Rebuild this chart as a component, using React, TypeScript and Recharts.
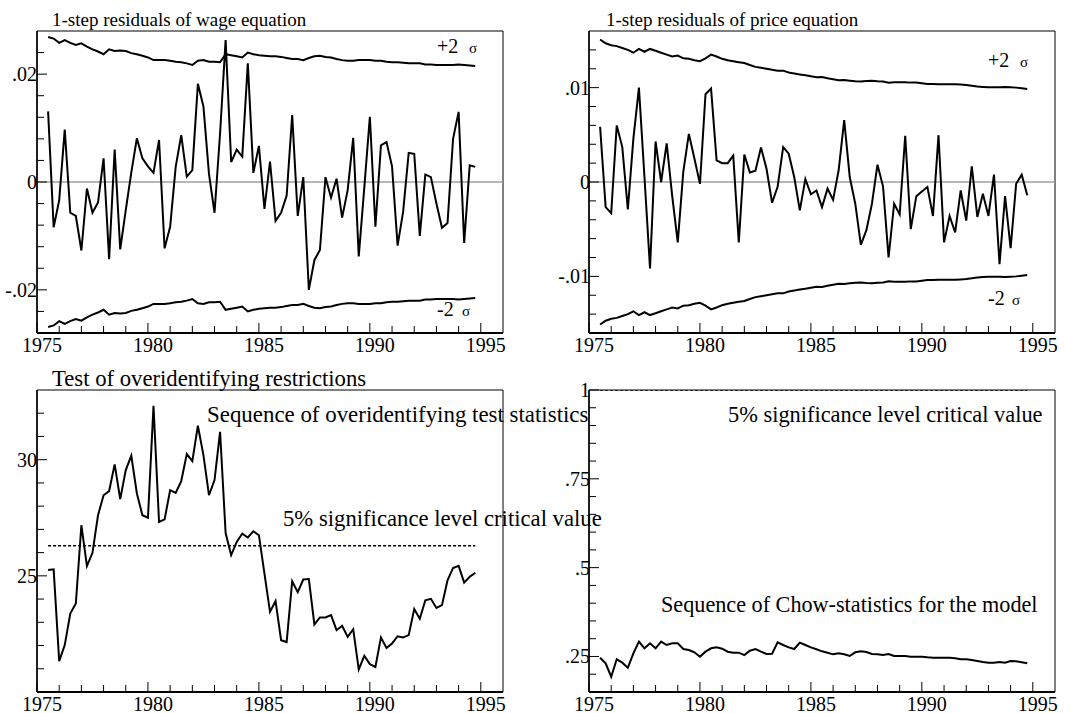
import React from 'react';
import { LineChart, Line, XAxis, YAxis, ReferenceLine, ReferenceArea } from 'recharts';

const FONT = '"Liberation Serif", "Times New Roman", serif';

// quarterly observation dates
const quarters = [
  1975.5, 1975.75, 1976, 1976.25, 1976.5, 1976.75, 1977, 1977.25, 1977.5, 1977.75,
  1978, 1978.25, 1978.5, 1978.75, 1979, 1979.25, 1979.5, 1979.75, 1980, 1980.25,
  1980.5, 1980.75, 1981, 1981.25, 1981.5, 1981.75, 1982, 1982.25, 1982.5, 1982.75,
  1983, 1983.25, 1983.5, 1983.75, 1984, 1984.25, 1984.5, 1984.75, 1985, 1985.25,
  1985.5, 1985.75, 1986, 1986.25, 1986.5, 1986.75, 1987, 1987.25, 1987.5, 1987.75,
  1988, 1988.25, 1988.5, 1988.75, 1989, 1989.25, 1989.5, 1989.75, 1990, 1990.25,
  1990.5, 1990.75, 1991, 1991.25, 1991.5, 1991.75, 1992, 1992.25, 1992.5, 1992.75,
  1993, 1993.25, 1993.5, 1993.75, 1994, 1994.25, 1994.5, 1994.75,
];

const wageResid = [
  0.0131, -0.0084, -0.0034, 0.0097, -0.0057, -0.0063, -0.0127, -0.0012, -0.0057, -0.0038,
  0.0044, -0.0143, 0.006, -0.0125, -0.0052, 0.0018, 0.0081, 0.0044, 0.0029, 0.0017,
  0.0078, -0.0123, -0.0083, 0.0028, 0.0087, 0.001, 0.0022, 0.0182, 0.014, 0.0015,
  -0.0057, 0.009, 0.0263, 0.0037, 0.006, 0.0047, 0.022, 0.0017, 0.0067, -0.005,
  0.0038, -0.0072, -0.0057, -0.0025, 0.0124, -0.0063, 0.0009, -0.02, -0.0145, -0.0126,
  0.0009, -0.0029, 0.0006, -0.0066, -0.0015, 0.0082, -0.0138, -0.001, 0.0121, -0.0083,
  0.0068, 0.0074, 0.0029, -0.0118, -0.0055, 0.0054, 0.0052, -0.01, 0.0014, 0.0009,
  -0.004, -0.0085, -0.0076, 0.008, 0.013, -0.0113, 0.0031, 0.0028,
];

const wageTwoSigma = [
  0.0269, 0.0266, 0.0258, 0.0263, 0.0258, 0.0254, 0.0257, 0.0251, 0.0246, 0.0242,
  0.0237, 0.0246, 0.0243, 0.0244, 0.0243, 0.0239, 0.0237, 0.0234, 0.0231, 0.0226,
  0.0226, 0.0226, 0.0225, 0.0223, 0.0222, 0.022, 0.0217, 0.0225, 0.0226, 0.0223,
  0.0223, 0.0222, 0.0237, 0.0235, 0.0233, 0.0231, 0.024, 0.0237, 0.0235, 0.0234,
  0.0233, 0.0233, 0.0232, 0.023, 0.0228, 0.0228, 0.0226, 0.023, 0.0233, 0.0234,
  0.0232, 0.0231, 0.0228, 0.0226, 0.0225, 0.0225, 0.0226, 0.0226, 0.0226, 0.0225,
  0.0225, 0.0223, 0.0222, 0.0222, 0.0221, 0.022, 0.022, 0.022, 0.0218, 0.0218,
  0.0217, 0.0217, 0.0217, 0.0217, 0.0218, 0.0217, 0.0216, 0.0215,
];

const priceResid = [
  0.00585, -0.00266, -0.0033, 0.006, 0.0037, -0.0029, 0.0046, 0.01, 0.0005, -0.00915,
  0.0043, 0.0, 0.0041, -0.0015, -0.0064, 0.0011, 0.0051, 0.0025, -0.0002, 0.0093,
  0.0099, 0.0023, 0.002, 0.002, 0.0028, -0.0064, 0.0029, 0.001, 0.0012, 0.00365,
  0.0014, -0.0022, -0.0005, 0.0037, 0.003, 0.0005, -0.003, 0.0003, -0.0013, -0.0009,
  -0.00266, -0.0007, -0.0019, 0.00124, 0.00656, 0.00053, -0.0023, -0.00667, -0.0051, -0.0023,
  0.00184, -0.00046, -0.008, -0.0023, -0.00344, 0.0049, -0.005, -0.0015, -0.001, -0.00053,
  -0.0036, 0.00496, -0.0064, -0.0036, -0.00535, -0.0009, -0.0041, 0.00167, -0.0037, -0.00124,
  -0.0036, 0.00078, -0.0087, -0.0015, -0.007, -0.00018, 0.00078, -0.0014,
];

const priceTwoSigma = [
  0.0151, 0.0147, 0.0145, 0.0144, 0.0142, 0.014, 0.0137, 0.0141, 0.0138, 0.0141,
  0.0139, 0.0137, 0.0135, 0.0133, 0.0134, 0.0131, 0.01305, 0.0129, 0.0128, 0.0131,
  0.0135, 0.0133, 0.01305, 0.0129, 0.0128, 0.0127, 0.0126, 0.0124, 0.0122, 0.0121,
  0.012, 0.0119, 0.0118, 0.0118, 0.0116, 0.0115, 0.0114, 0.0113, 0.0112, 0.0111,
  0.01113, 0.01099, 0.01089, 0.01078, 0.01082, 0.01074, 0.01067, 0.01064, 0.01071, 0.01074,
  0.01067, 0.01064, 0.01053, 0.01057, 0.01057, 0.01057, 0.01053, 0.01053, 0.01046, 0.01039,
  0.01039, 0.01035, 0.01035, 0.01035, 0.01035, 0.01032, 0.01028, 0.01021, 0.01011, 0.01007,
  0.01004, 0.01004, 0.01004, 0.01007, 0.01004, 0.01, 0.00993, 0.00986,
];

const overidStat = [
  25.25, 25.28, 21.33, 22.02, 23.38, 23.81, 27.18, 25.42, 25.99, 27.61,
  28.47, 28.65, 29.8, 28.3, 29.55, 30.17, 28.55, 27.61, 27.5, 32.32,
  27.32, 27.43, 28.69, 28.57, 29.08, 30.24, 29.94, 31.46, 30.2, 28.47,
  29.12, 31.2, 26.84, 25.89, 26.46, 26.82, 26.65, 26.92, 26.75, 25.1,
  23.45, 23.92, 22.23, 22.15, 24.77, 24.3, 24.84, 24.86, 22.91, 23.21,
  23.21, 23.31, 22.66, 22.85, 22.37, 22.7, 20.97, 21.56, 21.2, 21.08,
  22.35, 21.9, 22.09, 22.4, 22.35, 22.45, 23.57, 23.15, 23.95, 24.01,
  23.62, 23.74, 24.81, 25.34, 25.43, 24.71, 24.96, 25.13,
];
const overidCritical = 26.3;

const chowStat = [
  0.2466, 0.2307, 0.193, 0.242, 0.2326, 0.2185, 0.259, 0.2917, 0.273, 0.287,
  0.273, 0.2917, 0.2823, 0.287, 0.287, 0.271, 0.268, 0.2617, 0.2494, 0.2635,
  0.273, 0.2757, 0.272, 0.2635, 0.2607, 0.2607, 0.254, 0.2663, 0.271, 0.2635,
  0.257, 0.2579, 0.2899, 0.2823, 0.2757, 0.271, 0.2888, 0.2823, 0.2757, 0.2702,
  0.2645, 0.2607, 0.256, 0.259, 0.256, 0.2513, 0.2617, 0.2645, 0.2626, 0.257,
  0.256, 0.254, 0.257, 0.2513, 0.2513, 0.2513, 0.2494, 0.2494, 0.2494, 0.2475,
  0.2466, 0.2466, 0.2466, 0.2466, 0.2447, 0.242, 0.242, 0.24, 0.2372, 0.2344,
  0.2326, 0.2326, 0.2344, 0.2326, 0.2372, 0.2363, 0.2335, 0.2307,
];
const chowCritical = 1;

// axes
const xDomain = [1975, 1996];
const xTicks = [1975, 1976, 1977, 1978, 1979, 1980, 1981, 1982, 1983, 1984, 1985,
  1986, 1987, 1988, 1989, 1990, 1991, 1992, 1993, 1994, 1995];
const xMajor = [1975, 1980, 1985, 1990, 1995];
const xLabels = ['1975', '1980', '1985', '1990', '1995'];

const wageDomain = [-0.028, 0.028];
const wageTicks = [-0.024, -0.02, -0.016, -0.012, -0.008, -0.004, 0, 0.004, 0.008, 0.012, 0.016, 0.02, 0.024];
const wageMajor = [-0.02, 0, 0.02];
const wageLabels = ['-.02', '0', '.02'];

const priceDomain = [-0.016, 0.016];
const priceTicks = [-0.014, -0.012, -0.01, -0.008, -0.006, -0.004, -0.002, 0, 0.002, 0.004, 0.006, 0.008, 0.01, 0.012, 0.014];
const priceMajor = [-0.01, 0, 0.01];
const priceLabels = ['-.01', '0', '.01'];

const overidDomain = [20, 33];
const overidTicks = [21, 22, 23, 24, 25, 26, 27, 28, 29, 30, 31, 32];
const overidMajor = [25, 30];
const overidLabels = ['25', '30'];

const chowDomain = [0.15, 1];
const chowTicks = [0.2, 0.25, 0.3, 0.35, 0.4, 0.45, 0.5, 0.55, 0.6, 0.65, 0.7, 0.75, 0.8, 0.85, 0.9, 0.95, 1];
const chowMajor = [0.25, 0.5, 0.75, 1];
const chowLabels = ['.25', '.5', '.75', '1'];

const wageRows = quarters.map((t, i) => ({ t, resid: wageResid[i], up: wageTwoSigma[i], lo: -wageTwoSigma[i] }));
const priceRows = quarters.map((t, i) => ({ t, resid: priceResid[i], up: priceTwoSigma[i], lo: -priceTwoSigma[i] }));
const overidRows = quarters.map((t, i) => ({ t, stat: overidStat[i], crit: overidCritical }));
const chowRows = quarters.map((t, i) => ({ t, stat: chowStat[i], crit: chowCritical }));

const near = (a: number, b: number) => Math.abs(a - b) < 1e-9;

const makeXTick = (majors: number[], labels: string[]) => (props: any) => {
  const { x, y, payload } = props;
  const idx = majors.findIndex((m) => near(m, payload.value));
  const major = idx >= 0;
  return (
    <g>
      <line x1={x} x2={x} y1={y} y2={y - (major ? 10 : 7)} stroke="#000" strokeWidth={1} />
      {major && (
        <text x={x + 5} y={y + 18.5} textAnchor="middle" fontSize={20} fontFamily={FONT} fill="#000">
          {labels[idx]}
        </text>
      )}
    </g>
  );
};

const makeYTick = (majors: number[], labels: string[], dx: number) => (props: any) => {
  const { x, y, payload } = props;
  const idx = majors.findIndex((m) => near(m, payload.value));
  const major = idx >= 0;
  return (
    <g>
      <line x1={x} x2={x + (major ? 10 : 7)} y1={y} y2={y} stroke="#000" strokeWidth={1} />
      {major && (
        <text x={x + dx} y={y + 7} textAnchor="end" fontSize={20} fontFamily={FONT} fill="#000">
          {labels[idx]}
        </text>
      )}
    </g>
  );
};

type PanelProps = {
  left: number;
  top: number;
  width: number;
  height: number;
  yw: number;
  xh: number;
  mt: number;
  mr: number;
  data: any[];
  yDomain: number[];
  yTicks: number[];
  yMajor: number[];
  yLabels: string[];
  labelDx: number;
  children: React.ReactNode;
};

function Panel(p: PanelProps) {
  return (
    <div style={{ position: 'absolute', left: p.left, top: p.top, width: p.width, height: p.height }}>
      <LineChart
        width={p.width}
        height={p.height}
        data={p.data}
        margin={{ top: p.mt, right: p.mr, bottom: 0, left: 0 }}
      >
        <ReferenceArea
          x1={xDomain[0]}
          x2={xDomain[1]}
          y1={p.yDomain[0]}
          y2={p.yDomain[1]}
          fill="none"
          fillOpacity={0}
          stroke="#000"
          strokeWidth={1}
          ifOverflow="visible"
        />
        <XAxis
          dataKey="t"
          type="number"
          domain={xDomain}
          allowDataOverflow
          ticks={xTicks}
          interval={0}
          height={p.xh}
          tickSize={0}
          tickMargin={0}
          tickLine={false}
          axisLine={{ stroke: '#000', strokeWidth: 2 }}
          tick={makeXTick(xMajor, xLabels)}
        />
        <YAxis
          type="number"
          domain={p.yDomain}
          allowDataOverflow
          ticks={p.yTicks}
          interval={0}
          width={p.yw}
          tickSize={0}
          tickMargin={0}
          tickLine={false}
          axisLine={{ stroke: '#000', strokeWidth: 1.5 }}
          tick={makeYTick(p.yMajor, p.yLabels, p.labelDx)}
        />
        {p.children}
      </LineChart>
    </div>
  );
}

const txt = (x: number, y: number, s: string, size: number) => (
  <text x={x} y={y} fontSize={size} fontFamily={FONT} fill="#000">
    {s}
  </text>
);

export default function App() {
  return (
    <div
      style={{
        position: 'absolute',
        left: 0,
        top: 0,
        width: 1081,
        height: 713,
        background: '#fff',
        fontFamily: FONT,
        overflow: 'hidden',
      }}
    >
      <Panel left={0} top={0} width={540} height={360} yw={37} xh={27} mt={31} mr={37}
        data={wageRows} yDomain={wageDomain} yTicks={wageTicks} yMajor={wageMajor} yLabels={wageLabels} labelDx={0}>
        <ReferenceLine y={0} stroke="#a0a0a0" strokeWidth={1.5} />
        <Line dataKey="up" stroke="#000" strokeWidth={2} dot={false} isAnimationActive={false} />
        <Line dataKey="lo" stroke="#000" strokeWidth={2} dot={false} isAnimationActive={false} />
        <Line dataKey="resid" stroke="#000" strokeWidth={2} dot={false} isAnimationActive={false} />
      </Panel>
      <Panel left={540} top={0} width={541} height={360} yw={49} xh={27} mt={31} mr={26}
        data={priceRows} yDomain={priceDomain} yTicks={priceTicks} yMajor={priceMajor} yLabels={priceLabels} labelDx={1}>
        <ReferenceLine y={0} stroke="#a0a0a0" strokeWidth={1.5} />
        <Line dataKey="up" stroke="#000" strokeWidth={2} dot={false} isAnimationActive={false} />
        <Line dataKey="lo" stroke="#000" strokeWidth={2} dot={false} isAnimationActive={false} />
        <Line dataKey="resid" stroke="#000" strokeWidth={2} dot={false} isAnimationActive={false} />
      </Panel>
      <Panel left={0} top={360} width={540} height={353} yw={37} xh={21} mt={30} mr={37}
        data={overidRows} yDomain={overidDomain} yTicks={overidTicks} yMajor={overidMajor} yLabels={overidLabels} labelDx={0}>
        <Line dataKey="crit" stroke="#000" strokeWidth={1.5} strokeDasharray="3 2" dot={false} isAnimationActive={false} />
        <Line dataKey="stat" stroke="#000" strokeWidth={2} dot={false} isAnimationActive={false} />
      </Panel>
      <Panel left={540} top={360} width={541} height={353} yw={49} xh={21} mt={30} mr={26}
        data={chowRows} yDomain={chowDomain} yTicks={chowTicks} yMajor={chowMajor} yLabels={chowLabels} labelDx={1}>
        <Line dataKey="crit" stroke="#000" strokeWidth={1.5} strokeDasharray="3 2" dot={false} isAnimationActive={false} />
        <Line dataKey="stat" stroke="#000" strokeWidth={2} dot={false} isAnimationActive={false} />
      </Panel>
      <svg
        width={1081}
        height={713}
        style={{ position: 'absolute', left: 0, top: 0, pointerEvents: 'none', overflow: 'visible' }}
      >
        {txt(52, 26, '1-step residuals of wage equation', 19)}
        {txt(606, 26, '1-step residuals of price equation', 19)}
        {txt(52, 386, 'Test of overidentifying restrictions', 22.7)}
        {txt(207, 422, 'Sequence of overidentifying test statistics', 22.9)}
        {txt(283, 526, '5% significance level critical value', 22.7)}
        {txt(728, 422, '5% significance level critical value', 22.4)}
        {txt(661, 612, 'Sequence of Chow-statistics for the model', 22.2)}
        {txt(437, 53, '+2', 20)}
        {txt(469, 53, 'σ', 15)}
        {txt(437, 316, '-2', 20)}
        {txt(462, 316, 'σ', 15)}
        {txt(988, 67, '+2', 20)}
        {txt(1020, 67, 'σ', 15)}
        {txt(988, 305, '-2', 20)}
        {txt(1012, 305, 'σ', 15)}
      </svg>
    </div>
  );
}
